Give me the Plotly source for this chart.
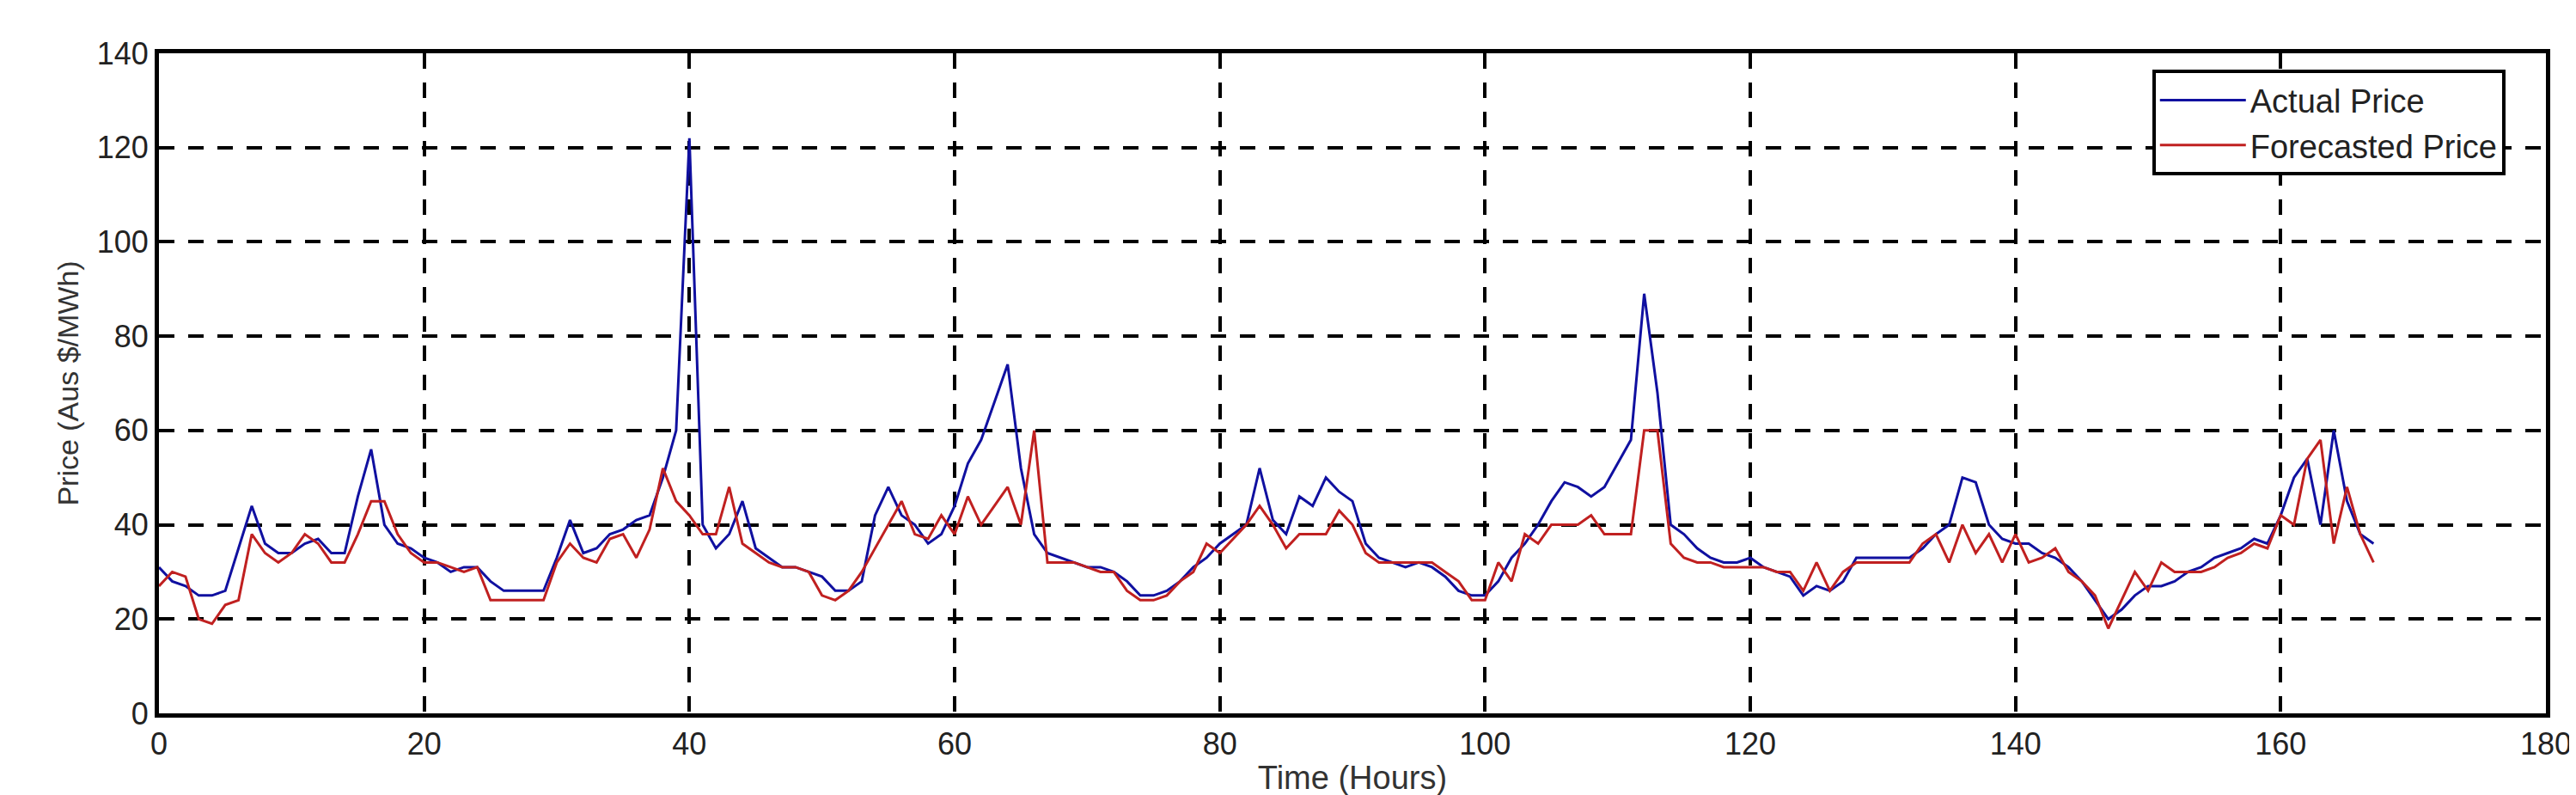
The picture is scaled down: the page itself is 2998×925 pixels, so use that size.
import numpy as np
import plotly.graph_objects as go

hours = list(range(168))

actual = [31, 28, 27, 25, 25, 26, 35, 44, 36, 34, 34, 36, 37, 34, 34, 46, 56, 40, 36, 35,
          33, 32, 30, 31, 31, 28, 26, 26, 26, 26, 33, 41, 34, 35, 38, 39, 41, 42, 50, 60,
          122, 40, 35, 38, 45, 35, 33, 31, 31, 30, 29, 26, 26, 28, 42, 48, 42, 40, 36, 38,
          44, 53, 58, 66, 74, 52, 38, 34, 33, 32, 31, 31, 30, 28, 25, 25, 26, 28, 31, 33,
          36, 38, 40, 52, 41, 38, 46, 44, 50, 47, 45, 36, 33, 32, 31, 32, 31, 29, 26, 25,
          25, 28, 33, 36, 40, 45, 49, 48, 46, 48, 53, 58, 89, 68, 40, 38, 35, 33, 32, 32,
          33, 31, 30, 29, 25, 27, 26, 28, 33, 33, 33, 33, 33, 35, 38, 40, 50, 49, 40, 37,
          36, 36, 34, 33, 31, 28, 24, 20, 22, 25, 27, 27, 28, 30, 31, 33, 34, 35, 37, 36,
          42, 50, 54, 40, 60, 45, 38, 36]

forecast = [27, 30, 29, 20, 19, 23, 24, 38, 34, 32, 34, 38, 36, 32, 32, 38, 45, 45, 38, 34,
            32, 32, 31, 30, 31, 24, 24, 24, 24, 24, 32, 36, 33, 32, 37, 38, 33, 39, 52, 45,
            42, 38, 38, 48, 36, 34, 32, 31, 31, 30, 25, 24, 26, 30, 35, 40, 45, 38, 37, 42,
            38, 46, 40, 44, 48, 40, 60, 32, 32, 32, 31, 30, 30, 26, 24, 24, 25, 28, 30, 36,
            34, 37, 40, 44, 40, 35, 38, 38, 38, 43, 40, 34, 32, 32, 32, 32, 32, 30, 28, 24,
            24, 32, 28, 38, 36, 40, 40, 40, 42, 38, 38, 38, 60, 60, 36, 33, 32, 32, 31, 31,
            31, 31, 30, 30, 26, 32, 26, 30, 32, 32, 32, 32, 32, 36, 38, 32, 40, 34, 38, 32,
            38, 32, 33, 35, 30, 28, 25, 18, 24, 30, 26, 32, 30, 30, 30, 31, 33, 34, 36, 35,
            42, 40, 54, 58, 36, 48, 38, 32]

x_ticks = [0, 20, 40, 60, 80, 100, 120, 140, 160, 180]
y_ticks = [0, 20, 40, 60, 80, 100, 120, 140]

fig = go.Figure()
fig.add_trace(go.Scatter(x=hours, y=actual, name='Actual Price', mode='lines',
                         line=dict(color='#1010a0', width=3)))
fig.add_trace(go.Scatter(x=hours, y=forecast, name='Forecasted Price', mode='lines',
                         line=dict(color='#c02020', width=3)))

axis = dict(showline=True, linecolor='black', linewidth=5, mirror=True,
            showgrid=True, gridcolor='black', gridwidth=4, griddash='18px,16px',
            zeroline=False, ticks='', tickfont=dict(size=36, color='#222'))
fig.update_xaxes(range=[0, 180], tickvals=x_ticks, title=dict(text='Time (Hours)', font=dict(size=38, color='#333'), standoff=8), **axis)
fig.update_yaxes(range=[0, 140], tickvals=y_ticks, title=dict(text='Price (Aus $/MWh)', font=dict(size=34, color='#333'), standoff=12), **axis)

fig.update_layout(
    width=2998, height=925,
    plot_bgcolor='white', paper_bgcolor='white',
    font=dict(family='Liberation Sans, Arial, sans-serif'),
    margin=dict(l=177, r=43, t=54, b=69),
    legend=dict(x=0.983, y=0.975, xanchor='right', yanchor='top',
                bgcolor='white', bordercolor='black', borderwidth=4,
                itemwidth=100, tracegroupgap=0,
                font=dict(size=38, color='#222')),
)

fig.write_html("out.html")
